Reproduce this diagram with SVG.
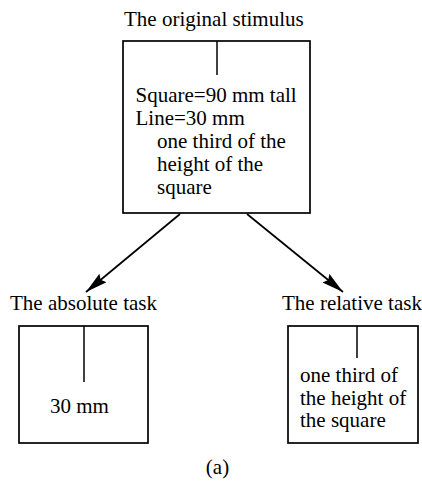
<svg xmlns="http://www.w3.org/2000/svg" width="422" height="481" viewBox="0 0 422 481">
<style>
text{font-family:"Liberation Serif","Times New Roman",serif;font-size:21px;fill:#000}
.box{fill:#fff;stroke:#000;stroke-width:1.7}
.ln{stroke:#000;stroke-width:1.5}
.conn{stroke:#000;stroke-width:1.7;fill:none}
</style>
<defs>
<marker id="ah" viewBox="0 0 22 11" refX="22" refY="5.5" markerWidth="22" markerHeight="11" markerUnits="userSpaceOnUse" orient="auto">
<path d="M0,0 L22,5.5 L0,11 L3,5.5 Z" fill="#000"/>
</marker>
</defs>
<rect width="422" height="481" fill="#fff"/>
<g id="original">
<text x="124" y="26">The original stimulus</text>
<rect class="box" x="123" y="41" width="187" height="172"/>
<line class="ln" x1="217" y1="41" x2="217" y2="75"/>
<text x="135.5" y="102">Square=90 mm tall</text>
<text x="135.5" y="125">Line=30 mm</text>
<text x="157" y="148">one third of the</text>
<text x="157" y="171">height of the</text>
<text x="157" y="194">square</text>
</g>
<g id="connectors">
<line class="conn" x1="180" y1="214" x2="86" y2="292" marker-end="url(#ah)"/>
<line class="conn" x1="247" y1="214" x2="343" y2="292" marker-end="url(#ah)"/>
</g>
<g id="absolute">
<text x="10" y="310">The absolute task</text>
<rect class="box" x="19" y="326" width="129" height="117"/>
<line class="ln" x1="84" y1="326" x2="84" y2="382"/>
<text x="50" y="413">30 mm</text>
</g>
<g id="relative">
<text x="282" y="310">The relative task</text>
<rect class="box" x="288" y="326" width="130" height="117"/>
<line class="ln" x1="357" y1="326" x2="357" y2="358"/>
<text x="300" y="382">one third of</text>
<text x="300" y="404.5">the height of</text>
<text x="300" y="427">the square</text>
</g>
<text x="217.5" y="474" text-anchor="middle">(a)</text>
</svg>
